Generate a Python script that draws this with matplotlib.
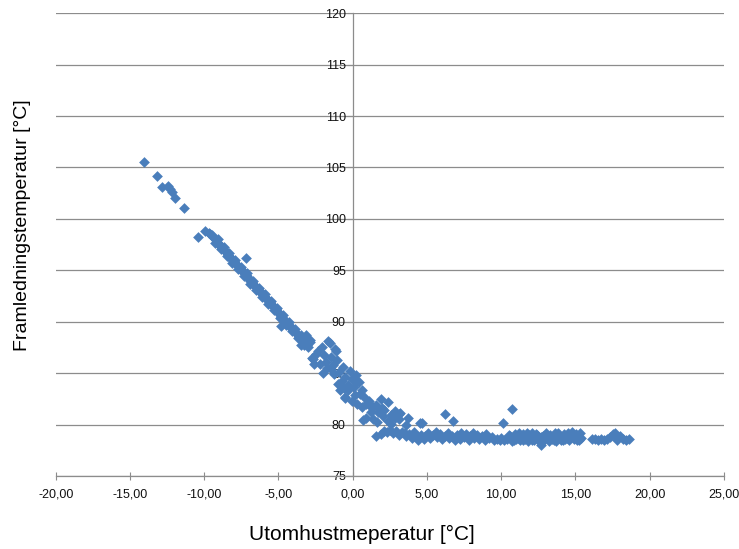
import matplotlib
matplotlib.use('Agg')
import matplotlib.pyplot as plt
from matplotlib.ticker import FuncFormatter, MultipleLocator

''' Datos leidos del grafico: utomhustemperatur (x) y framledningstemperatur (y) '''
# puntos aislados a la izquierda
x_kall = [-14.05, -13.15, -12.85, -12.45, -12.3, -12.15, -12.0, -11.35, -10.4, -9.95]
y_kall = [105.5, 104.2, 103.1, 103.15, 102.9, 102.6, 102.0, 101.1, 98.2, 98.8]

# la linea densa
x_linje = [-9.7, -9.6, -9.5, -9.4, -9.3, -9.2, -9.1, -9.0, -8.9, -8.8, -8.7, -8.6, -8.5, -8.4,
           -8.3, -8.2, -8.1, -8.0, -7.9, -7.8, -7.7, -7.6, -7.5, -7.4, -7.3, -7.2, -7.1, -7.0,
           -6.9, -6.8, -6.7, -6.6, -6.5, -6.4, -6.3, -6.2, -6.1, -6.0, -5.9, -5.8, -5.7, -5.6,
           -5.5, -5.4, -5.3, -5.2, -5.1, -5.0, -4.9, -4.8, -4.7, -4.6, -4.5, -4.4, -4.3, -4.2,
           -4.1, -4.0, -3.9, -3.8, -3.7, -3.6, -3.5, -3.4, -3.3, -3.2, -3.1, -3.0,
           -9.3, -9.1, -8.9, -8.7, -8.5, -8.3, -8.1, -7.9, -7.7, -7.5, -7.3, -7.1, -6.9, -6.7,
           -6.5, -6.3, -6.1, -5.9, -5.7, -5.5, -5.3, -5.1, -4.9, -4.7, -4.5, -4.3, -4.1, -3.9,
           -3.7, -3.5, -3.3, -3.1,
           -7.2, -4.85, -3.5]
y_linje = [98.6, 98.5, 98.4, 98.2, 98.0, 97.9, 97.7, 97.5, 97.4, 97.2, 97.0, 96.9, 96.7, 96.5,
           96.4, 96.2, 96.0, 95.9, 95.7, 95.5, 95.4, 95.2, 95.0, 94.9, 94.7, 94.5, 94.4, 94.2,
           94.0, 93.9, 93.7, 93.5, 93.4, 93.2, 93.0, 92.9, 92.7, 92.5, 92.4, 92.2, 92.0, 91.9,
           91.7, 91.5, 91.4, 91.2, 91.0, 90.9, 90.7, 90.5, 90.4, 90.2, 90.0, 89.9, 89.7, 89.5,
           89.4, 89.2, 89.0, 88.9, 88.7, 88.5, 88.4, 88.2, 88.0, 87.9, 87.7, 87.5,
           97.7, 98.0, 97.1, 97.3, 96.4, 96.7, 95.7, 96.0, 95.1, 95.3, 94.4, 94.7, 93.7, 94.0,
           93.1, 93.3, 92.4, 92.7, 91.7, 92.0, 91.1, 91.3, 90.4, 90.7, 89.7, 90.0, 89.1, 89.3,
           88.4, 88.7, 87.7, 88.0,
           96.2, 89.6, 87.7]

# nube alrededor de 0 grados
x_moln = [-3.12, -2.9, -2.74, -2.58, -2.36, -2.1, -1.94, -1.78, -1.56, -1.46, -1.31, -1.15,
          -1.08, -1.46, -0.89, -0.67, -0.51, -0.19, -0.03, -0.99, -0.83, -0.51, -0.35, 0.06,
          0.29, 0.45, 0.6, -0.03, 0.29, 0.61, 0.92, 0.76, 1.08, 1.4, 1.72, 1.24, 0.92, 1.4,
          1.88, 2.36, 2.04, 2.83, 3.09, 2.83, 3.15, 2.36, -1.66, -1.19, -2.88, -2.66, -2.2,
          -1.98, -2.45, -1.7, -1.25, -0.75, -0.3, 0.15, 0.5, 1.1, 1.6, 2.1, 2.6, -0.6, 0.2,
          0.71, 1.61, -0.52, 1.95, 2.55]
y_moln = [88.7, 88.2, 86.5, 85.9, 87.2, 87.5, 86.8, 86.1, 87.9, 86.6, 85.8, 87.2,
          86.3, 85.4, 85.1, 85.6, 84.6, 85.2, 84.4, 83.9, 83.4, 82.7, 83.4, 83.7,
          84.2, 84.1, 83.4, 82.3, 82.0, 81.7, 82.0, 82.7, 82.3, 81.7, 81.2, 81.2, 80.6, 80.5,
          82.5, 82.2, 80.8, 81.3, 81.05, 80.6, 80.5, 80.3, 88.1, 87.3, 88.0, 86.4, 85.9,
          85.0, 86.9, 85.5, 84.9, 84.2, 83.8, 82.9, 83.0, 81.9, 81.9, 81.4, 80.9, 83.6, 84.8,
          80.4, 80.25, 82.6, 81.6, 80.1]

# la cola plana
x_svans = [1.6, 1.9, 2.1, 2.3, 2.5, 2.7, 2.9, 3.1, 3.3, 3.5, 3.6, 3.8, 4.0, 4.1, 4.3, 4.4,
           4.6, 4.8, 4.9, 5.1, 5.2, 5.4, 5.6, 5.7, 5.9, 6.0, 6.2, 6.4, 6.5, 6.7, 6.9, 7.0,
           7.2, 7.3, 7.5, 7.6, 7.8, 7.9, 8.1, 8.2, 8.4, 8.5, 8.7, 8.9, 9.0, 9.2, 9.4, 9.5,
           9.7, 9.9, 10.0, 10.2, 10.4, 10.6, 10.7, 10.9, 11.0, 11.1, 11.2, 11.3, 11.4, 11.5,
           11.6, 11.7, 11.8, 11.9, 12.0, 12.1, 12.2, 12.3, 12.4, 12.5, 12.6, 12.7, 12.8, 12.9,
           13.0, 13.1, 13.2, 13.3, 13.4, 13.5, 13.6, 13.7, 13.8, 13.9, 14.0, 14.1, 14.2, 14.3,
           14.4, 14.5, 14.6, 14.7, 14.8, 14.9, 15.0, 15.1, 15.3, 15.4,
           10.55, 10.85, 11.15, 11.45, 11.75, 12.05, 12.35, 12.65, 12.95, 13.25, 13.55, 13.85,
           14.15, 14.45, 14.75, 15.05, 15.25,
           16.1, 16.3, 16.5, 16.7, 16.9, 17.1, 17.3, 17.5, 17.7, 17.8, 18.0, 18.2, 18.4, 18.6,
           3.2, 3.75, 3.57, 4.5, 4.7, 6.2, 6.75, 10.1, 10.7]
y_svans = [78.9, 79.1, 79.4, 79.3, 79.5, 79.2, 79.4, 79.0, 79.3, 79.2, 78.9, 79.1, 78.7, 79.3,
           78.8, 78.5, 79.0, 78.6, 78.9, 79.2, 78.7, 79.0, 79.3, 78.8, 79.1, 78.6, 78.9, 79.2,
           78.7, 78.9, 78.5, 79.0, 78.6, 79.2, 78.8, 79.1, 78.5, 78.9, 79.2, 78.7, 79.0, 78.6,
           78.9, 78.5, 79.1, 78.7, 78.8, 78.5, 78.6, 78.5, 78.7, 78.5, 78.6, 78.9, 78.4, 79.1,
           78.6, 78.9, 79.2, 78.5, 78.8, 79.1, 78.6, 78.9, 78.4, 79.0, 78.7, 79.2, 78.5, 78.8,
           79.0, 78.6, 78.3, 78.0, 78.9, 78.5, 79.2, 78.7, 78.4, 79.0, 78.6, 78.9, 79.2, 78.4,
           78.7, 79.0, 78.5, 78.8, 79.1, 78.6, 78.9, 79.2, 78.5, 78.8, 79.0, 78.6, 78.9, 78.5,
           79.2, 78.7,
           79.0, 78.5, 78.7, 78.5, 79.2, 78.5, 79.1, 78.8, 79.0, 78.6, 78.5, 79.2, 78.5, 78.7,
           79.3, 79.1, 78.5,
           78.6, 78.6, 78.5, 78.6, 78.5, 78.6, 78.8, 79.1, 79.2, 78.5, 78.9, 78.6, 78.5, 78.6,
           81.1, 80.6, 80.0, 80.15, 80.2, 81.0, 80.35, 80.2, 81.5]

x_alla = x_kall + x_linje + x_moln + x_svans
y_alla = y_kall + y_linje + y_moln + y_svans

''' Grafica '''
fig = plt.figure(figsize=(7.39, 5.49), dpi=100)
ax = fig.add_axes([0.0755, 0.133, 0.904, 0.843])

gris = '#8c8c8c'
ax.scatter(x_alla, y_alla, marker='D', s=30, color='#4a7ebb', linewidths=0, zorder=3)

ax.set_xlim(-20, 25)
ax.set_ylim(75, 120)
ax.xaxis.set_major_locator(MultipleLocator(5))
ax.yaxis.set_major_locator(MultipleLocator(5))
ax.xaxis.set_major_formatter(FuncFormatter(lambda v, p: f'{v:.2f}'.replace('.', ',')))
ax.yaxis.set_major_formatter(FuncFormatter(lambda v, p: f'{v:.0f}'))

# eje y cruzando en x = 0
ax.spines['left'].set_position(('data', 0))
ax.spines['top'].set_visible(False)
ax.spines['right'].set_visible(False)
ax.spines['left'].set_color(gris)
ax.spines['bottom'].set_color(gris)
ax.spines['left'].set_linewidth(0.9)
ax.spines['bottom'].set_linewidth(0.9)

ax.yaxis.grid(True, color=gris, linewidth=0.9)
ax.tick_params(axis='x', direction='inout', length=6, color=gris, pad=6,
               labelsize=9, labelcolor='#111111')
ax.tick_params(axis='y', direction='out', length=4, color=gris, pad=1,
               labelsize=9, labelcolor='#111111')
for lbl in ax.get_xticklabels() + ax.get_yticklabels():
    lbl.set_family(['Liberation Sans', 'DejaVu Sans'])

fig.text(0.49, 0.026, 'Utomhustmeperatur [°C]', ha='center', va='center', fontsize=15,
         family=['Liberation Sans', 'DejaVu Sans'])
fig.text(0.03, 0.59, 'Framledningstemperatur [°C]', ha='center', va='center', fontsize=14,
         rotation=90, family=['Liberation Sans', 'DejaVu Sans'])

fig.savefig('out.png', dpi=100)
